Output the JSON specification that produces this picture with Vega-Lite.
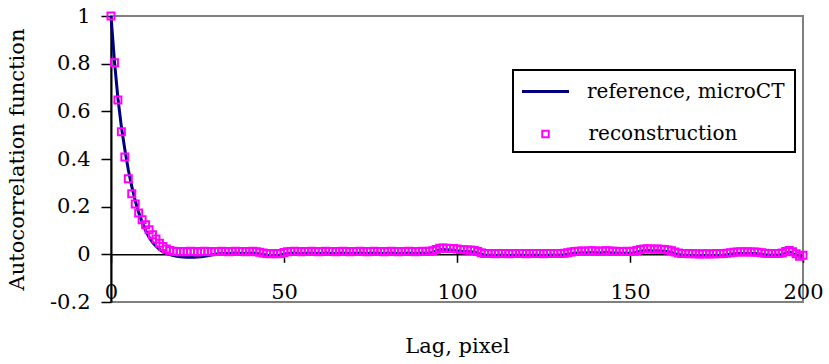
{
  "$schema": "https://vega.github.io/schema/vega-lite/v6.json",
  "width": 692,
  "height": 286,
  "autosize": {"type": "none"},
  "padding": {"left": 111, "top": 16, "right": 26, "bottom": 62},
  "background": "white",
  "config": {
    "view": {"stroke": "#808080", "strokeWidth": 2},
    "font": "DejaVu Serif",
    "legend": {"strokeWidth": 2}
  },
  "resolve": {"scale": {"color": "independent"}, "legend": {"color": "independent"}},
  "datasets": {
    "reference": [
      {"lag":0,"acf":1},{"lag":1,"acf":0.81},{"lag":2,"acf":0.655},{"lag":3,"acf":0.535},{"lag":4,"acf":0.44},{"lag":5,"acf":0.355},{"lag":6,"acf":0.285},{"lag":7,"acf":0.225},{"lag":8,"acf":0.175},{"lag":9,"acf":0.135},
      {"lag":10,"acf":0.1},{"lag":11,"acf":0.072},{"lag":12,"acf":0.05},{"lag":13,"acf":0.034},{"lag":14,"acf":0.021},{"lag":15,"acf":0.011},{"lag":16,"acf":0.004},{"lag":17,"acf":-0.001},{"lag":18,"acf":-0.005},{"lag":19,"acf":-0.008},
      {"lag":20,"acf":-0.01},{"lag":21,"acf":-0.011},{"lag":22,"acf":-0.012},{"lag":23,"acf":-0.012},{"lag":24,"acf":-0.012},{"lag":25,"acf":-0.011},{"lag":26,"acf":-0.01},{"lag":27,"acf":-0.008},{"lag":28,"acf":-0.006},{"lag":29,"acf":-0.003},
      {"lag":30,"acf":0},{"lag":31,"acf":0.002},{"lag":32,"acf":0.004},{"lag":33,"acf":0.005},{"lag":34,"acf":0.004},{"lag":35,"acf":0.005},{"lag":36,"acf":0.006},{"lag":37,"acf":0.005},{"lag":38,"acf":0.005},{"lag":39,"acf":0.004},
      {"lag":40,"acf":0.005},{"lag":41,"acf":0.006},{"lag":42,"acf":0.004},{"lag":43,"acf":0.002},{"lag":44,"acf":-0.001},{"lag":45,"acf":-0.004},{"lag":46,"acf":-0.005},{"lag":47,"acf":-0.004},{"lag":48,"acf":-0.005},{"lag":49,"acf":-0.003},
      {"lag":50,"acf":0.001},{"lag":51,"acf":0.004},{"lag":52,"acf":0.005},{"lag":53,"acf":0.006},{"lag":54,"acf":0.005},{"lag":55,"acf":0.004},{"lag":56,"acf":0.005},{"lag":57,"acf":0.005},{"lag":58,"acf":0.006},{"lag":59,"acf":0.005},
      {"lag":60,"acf":0.004},{"lag":61,"acf":0.005},{"lag":62,"acf":0.006},{"lag":63,"acf":0.005},{"lag":64,"acf":0.005},{"lag":65,"acf":0.004},{"lag":66,"acf":0.005},{"lag":67,"acf":0.006},{"lag":68,"acf":0.005},{"lag":69,"acf":0.004},
      {"lag":70,"acf":0.005},{"lag":71,"acf":0.005},{"lag":72,"acf":0.006},{"lag":73,"acf":0.005},{"lag":74,"acf":0.004},{"lag":75,"acf":0.005},{"lag":76,"acf":0.006},{"lag":77,"acf":0.005},{"lag":78,"acf":0.005},{"lag":79,"acf":0.004},
      {"lag":80,"acf":0.005},{"lag":81,"acf":0.006},{"lag":82,"acf":0.005},{"lag":83,"acf":0.004},{"lag":84,"acf":0.005},{"lag":85,"acf":0.005},{"lag":86,"acf":0.006},{"lag":87,"acf":0.005},{"lag":88,"acf":0.004},{"lag":89,"acf":0.005},
      {"lag":90,"acf":0.006},{"lag":91,"acf":0.005},{"lag":92,"acf":0.006},{"lag":93,"acf":0.008},{"lag":94,"acf":0.013},{"lag":95,"acf":0.019},{"lag":96,"acf":0.02},{"lag":97,"acf":0.019},{"lag":98,"acf":0.018},{"lag":99,"acf":0.017},
      {"lag":100,"acf":0.015},{"lag":101,"acf":0.013},{"lag":102,"acf":0.012},{"lag":103,"acf":0.011},{"lag":104,"acf":0.011},{"lag":105,"acf":0.009},{"lag":106,"acf":0.005},{"lag":107,"acf":0},{"lag":108,"acf":-0.003},{"lag":109,"acf":-0.004},
      {"lag":110,"acf":-0.004},{"lag":111,"acf":-0.005},{"lag":112,"acf":-0.004},{"lag":113,"acf":-0.003},{"lag":114,"acf":-0.004},{"lag":115,"acf":-0.005},{"lag":116,"acf":-0.004},{"lag":117,"acf":-0.004},{"lag":118,"acf":-0.003},{"lag":119,"acf":-0.004},
      {"lag":120,"acf":-0.005},{"lag":121,"acf":-0.004},{"lag":122,"acf":-0.003},{"lag":123,"acf":-0.004},{"lag":124,"acf":-0.004},{"lag":125,"acf":-0.005},{"lag":126,"acf":-0.004},{"lag":127,"acf":-0.003},{"lag":128,"acf":-0.004},{"lag":129,"acf":-0.004},
      {"lag":130,"acf":-0.003},{"lag":131,"acf":-0.002},{"lag":132,"acf":0},{"lag":133,"acf":0.003},{"lag":134,"acf":0.005},{"lag":135,"acf":0.006},{"lag":136,"acf":0.007},{"lag":137,"acf":0.006},{"lag":138,"acf":0.007},{"lag":139,"acf":0.008},
      {"lag":140,"acf":0.007},{"lag":141,"acf":0.006},{"lag":142,"acf":0.007},{"lag":143,"acf":0.008},{"lag":144,"acf":0.007},{"lag":145,"acf":0.006},{"lag":146,"acf":0.006},{"lag":147,"acf":0.005},{"lag":148,"acf":0.005},{"lag":149,"acf":0.006},
      {"lag":150,"acf":0.005},{"lag":151,"acf":0.006},{"lag":152,"acf":0.009},{"lag":153,"acf":0.013},{"lag":154,"acf":0.015},{"lag":155,"acf":0.016},{"lag":156,"acf":0.015},{"lag":157,"acf":0.014},{"lag":158,"acf":0.015},{"lag":159,"acf":0.014},
      {"lag":160,"acf":0.013},{"lag":161,"acf":0.011},{"lag":162,"acf":0.008},{"lag":163,"acf":0.003},{"lag":164,"acf":-0.001},{"lag":165,"acf":-0.003},{"lag":166,"acf":-0.004},{"lag":167,"acf":-0.005},{"lag":168,"acf":-0.004},{"lag":169,"acf":-0.005},
      {"lag":170,"acf":-0.006},{"lag":171,"acf":-0.005},{"lag":172,"acf":-0.005},{"lag":173,"acf":-0.006},{"lag":174,"acf":-0.005},{"lag":175,"acf":-0.004},{"lag":176,"acf":-0.005},{"lag":177,"acf":-0.004},{"lag":178,"acf":-0.002},{"lag":179,"acf":0},
      {"lag":180,"acf":0.002},{"lag":181,"acf":0.003},{"lag":182,"acf":0.004},{"lag":183,"acf":0.003},{"lag":184,"acf":0.004},{"lag":185,"acf":0.003},{"lag":186,"acf":0.003},{"lag":187,"acf":0.002},{"lag":188,"acf":0},{"lag":189,"acf":-0.002},
      {"lag":190,"acf":-0.003},{"lag":191,"acf":-0.004},{"lag":192,"acf":-0.003},{"lag":193,"acf":-0.004},{"lag":194,"acf":-0.001},{"lag":195,"acf":0.005},{"lag":196,"acf":0.009},{"lag":197,"acf":0.004},{"lag":198,"acf":-0.005},{"lag":199,"acf":-0.012},
      {"lag":200,"acf":-0.008}
    ],
    "reconstruction": [
      {"lag":0,"acf":1},{"lag":1,"acf":0.804},{"lag":2,"acf":0.648},{"lag":3,"acf":0.514},{"lag":4,"acf":0.408},{"lag":5,"acf":0.317},{"lag":6,"acf":0.254},{"lag":7,"acf":0.211},{"lag":8,"acf":0.173},{"lag":9,"acf":0.145},
      {"lag":10,"acf":0.124},{"lag":11,"acf":0.103},{"lag":12,"acf":0.082},{"lag":13,"acf":0.064},{"lag":14,"acf":0.047},{"lag":15,"acf":0.033},{"lag":16,"acf":0.022},{"lag":17,"acf":0.016},{"lag":18,"acf":0.013},{"lag":19,"acf":0.012},
      {"lag":20,"acf":0.011},{"lag":21,"acf":0.012},{"lag":22,"acf":0.011},{"lag":23,"acf":0.013},{"lag":24,"acf":0.012},{"lag":25,"acf":0.01},{"lag":26,"acf":0.012},{"lag":27,"acf":0.013},{"lag":28,"acf":0.012},{"lag":29,"acf":0.011},
      {"lag":30,"acf":0.012},{"lag":31,"acf":0.012},{"lag":32,"acf":0.013},{"lag":33,"acf":0.012},{"lag":34,"acf":0.011},{"lag":35,"acf":0.012},{"lag":36,"acf":0.013},{"lag":37,"acf":0.012},{"lag":38,"acf":0.012},{"lag":39,"acf":0.011},
      {"lag":40,"acf":0.012},{"lag":41,"acf":0.013},{"lag":42,"acf":0.011},{"lag":43,"acf":0.009},{"lag":44,"acf":0.006},{"lag":45,"acf":0.003},{"lag":46,"acf":0.002},{"lag":47,"acf":0.003},{"lag":48,"acf":0.002},{"lag":49,"acf":0.004},
      {"lag":50,"acf":0.008},{"lag":51,"acf":0.011},{"lag":52,"acf":0.012},{"lag":53,"acf":0.013},{"lag":54,"acf":0.012},{"lag":55,"acf":0.011},{"lag":56,"acf":0.012},{"lag":57,"acf":0.012},{"lag":58,"acf":0.013},{"lag":59,"acf":0.012},
      {"lag":60,"acf":0.011},{"lag":61,"acf":0.012},{"lag":62,"acf":0.013},{"lag":63,"acf":0.012},{"lag":64,"acf":0.012},{"lag":65,"acf":0.011},{"lag":66,"acf":0.012},{"lag":67,"acf":0.013},{"lag":68,"acf":0.012},{"lag":69,"acf":0.011},
      {"lag":70,"acf":0.012},{"lag":71,"acf":0.012},{"lag":72,"acf":0.013},{"lag":73,"acf":0.012},{"lag":74,"acf":0.011},{"lag":75,"acf":0.012},{"lag":76,"acf":0.013},{"lag":77,"acf":0.012},{"lag":78,"acf":0.012},{"lag":79,"acf":0.011},
      {"lag":80,"acf":0.012},{"lag":81,"acf":0.013},{"lag":82,"acf":0.012},{"lag":83,"acf":0.011},{"lag":84,"acf":0.012},{"lag":85,"acf":0.012},{"lag":86,"acf":0.013},{"lag":87,"acf":0.012},{"lag":88,"acf":0.011},{"lag":89,"acf":0.012},
      {"lag":90,"acf":0.013},{"lag":91,"acf":0.012},{"lag":92,"acf":0.013},{"lag":93,"acf":0.015},{"lag":94,"acf":0.02},{"lag":95,"acf":0.026},{"lag":96,"acf":0.027},{"lag":97,"acf":0.026},{"lag":98,"acf":0.025},{"lag":99,"acf":0.024},
      {"lag":100,"acf":0.022},{"lag":101,"acf":0.02},{"lag":102,"acf":0.019},{"lag":103,"acf":0.018},{"lag":104,"acf":0.018},{"lag":105,"acf":0.016},{"lag":106,"acf":0.012},{"lag":107,"acf":0.007},{"lag":108,"acf":0.004},{"lag":109,"acf":0.003},
      {"lag":110,"acf":0.003},{"lag":111,"acf":0.002},{"lag":112,"acf":0.003},{"lag":113,"acf":0.004},{"lag":114,"acf":0.003},{"lag":115,"acf":0.002},{"lag":116,"acf":0.003},{"lag":117,"acf":0.003},{"lag":118,"acf":0.004},{"lag":119,"acf":0.003},
      {"lag":120,"acf":0.002},{"lag":121,"acf":0.003},{"lag":122,"acf":0.004},{"lag":123,"acf":0.003},{"lag":124,"acf":0.003},{"lag":125,"acf":0.002},{"lag":126,"acf":0.003},{"lag":127,"acf":0.004},{"lag":128,"acf":0.003},{"lag":129,"acf":0.003},
      {"lag":130,"acf":0.004},{"lag":131,"acf":0.005},{"lag":132,"acf":0.007},{"lag":133,"acf":0.01},{"lag":134,"acf":0.012},{"lag":135,"acf":0.013},{"lag":136,"acf":0.014},{"lag":137,"acf":0.013},{"lag":138,"acf":0.014},{"lag":139,"acf":0.015},
      {"lag":140,"acf":0.014},{"lag":141,"acf":0.013},{"lag":142,"acf":0.014},{"lag":143,"acf":0.015},{"lag":144,"acf":0.014},{"lag":145,"acf":0.013},{"lag":146,"acf":0.013},{"lag":147,"acf":0.012},{"lag":148,"acf":0.012},{"lag":149,"acf":0.013},
      {"lag":150,"acf":0.012},{"lag":151,"acf":0.013},{"lag":152,"acf":0.016},{"lag":153,"acf":0.02},{"lag":154,"acf":0.022},{"lag":155,"acf":0.023},{"lag":156,"acf":0.022},{"lag":157,"acf":0.021},{"lag":158,"acf":0.022},{"lag":159,"acf":0.021},
      {"lag":160,"acf":0.02},{"lag":161,"acf":0.018},{"lag":162,"acf":0.015},{"lag":163,"acf":0.01},{"lag":164,"acf":0.006},{"lag":165,"acf":0.004},{"lag":166,"acf":0.003},{"lag":167,"acf":0.002},{"lag":168,"acf":0.003},{"lag":169,"acf":0.002},
      {"lag":170,"acf":0.001},{"lag":171,"acf":0.002},{"lag":172,"acf":0.002},{"lag":173,"acf":0.001},{"lag":174,"acf":0.002},{"lag":175,"acf":0.003},{"lag":176,"acf":0.002},{"lag":177,"acf":0.003},{"lag":178,"acf":0.005},{"lag":179,"acf":0.007},
      {"lag":180,"acf":0.009},{"lag":181,"acf":0.01},{"lag":182,"acf":0.011},{"lag":183,"acf":0.01},{"lag":184,"acf":0.011},{"lag":185,"acf":0.01},{"lag":186,"acf":0.01},{"lag":187,"acf":0.009},{"lag":188,"acf":0.007},{"lag":189,"acf":0.005},
      {"lag":190,"acf":0.004},{"lag":191,"acf":0.003},{"lag":192,"acf":0.004},{"lag":193,"acf":0.003},{"lag":194,"acf":0.006},{"lag":195,"acf":0.012},{"lag":196,"acf":0.016},{"lag":197,"acf":0.011},{"lag":198,"acf":0.002},{"lag":199,"acf":-0.008},
      {"lag":200,"acf":-0.004}
    ]
  },
  "encoding": {
    "x": {
      "field": "lag",
      "type": "quantitative",
      "scale": {"domain": [0, 200], "nice": false, "zero": false},
      "axis": {
        "values": [0, 50, 100, 150, 200],
        "offset": -47.7,
        "grid": false,
        "domainColor": "black",
        "domainWidth": 1.5,
        "tickColor": "black",
        "tickSize": 8,
        "tickWidth": 1.5,
        "labelPadding": 19,
        "labelFont": "DejaVu Serif",
        "labelFontSize": 21,
        "labelColor": "black",
        "labelFlush": false,
        "labelOverlap": false,
        "labelBound": false,
        "title": "Lag, pixel",
        "titleFont": "DejaVu Serif",
        "titleFontSize": 21,
        "titleFontWeight": "normal",
        "titleColor": "black",
        "titlePadding": 33
      }
    },
    "y": {
      "field": "acf",
      "type": "quantitative",
      "scale": {"domain": [-0.2, 1], "nice": false, "zero": false},
      "axis": {
        "values": [-0.2, 0, 0.2, 0.4, 0.6, 0.8, 1],
        "labelExpr": "datum.value < 0 ? '-' + format(-datum.value, '~g') : format(datum.value, '~g')",
        "grid": false,
        "domainColor": "black",
        "domainWidth": 2,
        "tickColor": "black",
        "tickSize": 10,
        "tickWidth": 1.5,
        "labelPadding": 11,
        "labelFont": "DejaVu Serif",
        "labelFontSize": 21,
        "labelColor": "black",
        "labelFlush": false,
        "labelOverlap": false,
        "labelBound": false,
        "title": "Autocorrelation function",
        "titleFont": "DejaVu Serif",
        "titleFontSize": 21,
        "titleFontWeight": "normal",
        "titleColor": "black",
        "titlePadding": 22
      }
    }
  },
  "layer": [
    {
      "data": {"name": "reference"},
      "mark": {"type": "line", "strokeWidth": 3, "interpolate": "linear"},
      "encoding": {
        "color": {
          "datum": "reference, microCT",
          "type": "nominal",
          "scale": {"range": ["#000080"]},
          "legend": {
            "title": " ",
            "titleOrient": "bottom",
            "titleFont": "DejaVu Serif",
            "titleFontSize": 20,
            "titlePadding": 20,
            "orient": "none",
            "legendX": 402,
            "legendY": 54,
            "direction": "vertical",
            "padding": 10,
            "strokeColor": "black",
            "labelFont": "DejaVu Serif",
            "labelFontSize": 20,
            "labelColor": "black",
            "labelLimit": 400,
            "symbolType": "M-2.35,0H2.35",
            "symbolSize": 400,
            "symbolStrokeWidth": 3,
            "symbolOffset": 11,
            "labelOffset": 30
          }
        }
      }
    },
    {
      "data": {"name": "reconstruction"},
      "mark": {"type": "point", "shape": "square", "filled": false, "size": 49, "strokeWidth": 2, "opacity": 1},
      "encoding": {
        "color": {
          "datum": "reconstruction",
          "type": "nominal",
          "scale": {"range": ["#FF00FF"]},
          "legend": {
            "title": null,
            "orient": "none",
            "legendX": 412,
            "legendY": 108,
            "direction": "vertical",
            "padding": 0,
            "labelFont": "DejaVu Serif",
            "labelFontSize": 20,
            "labelColor": "black",
            "labelLimit": 400,
            "symbolType": "square",
            "symbolSize": 42,
            "symbolStrokeWidth": 2,
            "symbolOffset": 12.5,
            "labelOffset": 33
          }
        }
      }
    }
  ]
}
